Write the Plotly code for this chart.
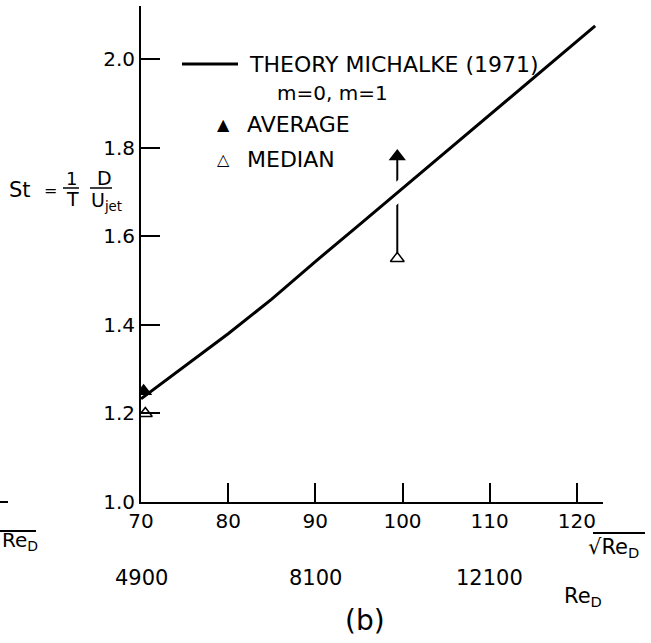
import plotly.graph_objects as go

# ---------------- data ----------------
theory_x = [70, 75, 80, 85, 90, 95, 100, 105, 110, 115, 120, 122.1]
theory_y = [1.233, 1.307, 1.380, 1.458, 1.543, 1.625, 1.708, 1.791, 1.874, 1.957, 2.040, 2.075]
avg_x = [70.3, 99.4]
avg_y = [1.25, 1.78]
med_x = [70.5, 99.4]
med_y = [1.20, 1.55]
x_ticks = [70, 80, 90, 100, 110, 120]
y_ticks = [1.0, 1.2, 1.4, 1.6, 1.8, 2.0]
re_tick_pos = [70, 90, 110]
re_tick_labels = ["4900", "8100", "12100"]

# ---------------- layout helpers ----------------
W, H = 651, 643
L, R, T, B = 141, 48, 6, 141
FONT = "DejaVu Sans"


def px(x):
    return (x - L) / (W - L - R)


def py(y):
    return (H - B - y) / (H - T - B)


fig = go.Figure()

# connector between median and average at the upper Reynolds number
fig.add_trace(go.Scatter(x=[avg_x[1], med_x[1]], y=[avg_y[1], med_y[1]], mode="lines",
                         line=dict(color="black", width=2), showlegend=False, hoverinfo="skip"))
# white halo so the connector is broken where the theory curve crosses it
fig.add_trace(go.Scatter(x=theory_x, y=theory_y, mode="lines",
                         line=dict(color="white", width=18), showlegend=False, hoverinfo="skip"))
fig.add_trace(go.Scatter(x=theory_x, y=theory_y, mode="lines", name="THEORY MICHALKE (1971)",
                         line=dict(color="black", width=3), showlegend=False))
fig.add_trace(go.Scatter(x=avg_x, y=avg_y, mode="markers", name="AVERAGE",
                         marker=dict(symbol="triangle-up", size=15, color="black"), showlegend=False))
fig.add_trace(go.Scatter(x=med_x, y=med_y, mode="markers", name="MEDIAN",
                         marker=dict(symbol="triangle-up", size=12, color="white",
                                     line=dict(color="black", width=1.5)), showlegend=False))

axis_common = dict(showline=True, linecolor="black", linewidth=2, ticks="inside", ticklen=19,
                   tickwidth=2, tickcolor="black", showgrid=False, zeroline=False,
                   tickfont=dict(family=FONT, size=20, color="black"))

fig.update_layout(
    width=W, height=H,
    margin=dict(l=L, r=R, t=T, b=B, pad=0),
    paper_bgcolor="white", plot_bgcolor="white",
    xaxis=dict(range=[70, 123], tickvals=x_ticks, ticktext=[str(v) for v in x_ticks], **axis_common),
    yaxis=dict(range=[1.0, 2.12], tickvals=y_ticks, ticktext=[f"{v:.1f}" for v in y_ticks], **axis_common),
    font=dict(family=FONT, size=20, color="black"),
)

ann = []
shapes = []


def text(x, y, s, size=20, xanchor="center"):
    ann.append(dict(x=px(x), y=py(y), xref="paper", yref="paper", text=s, showarrow=False,
                    xanchor=xanchor, yanchor="middle", font=dict(family=FONT, size=size, color="black")))


def hline(x0, x1, y, w=2):
    shapes.append(dict(type="line", xref="paper", yref="paper", x0=px(x0), x1=px(x1), y0=py(y), y1=py(y),
                       line=dict(color="black", width=w)))


# second row of x labels: Re_D
for pos, lab in zip(re_tick_pos, re_tick_labels):
    ann.append(dict(x=pos, y=py(578), xref="x", yref="paper", text=lab, showarrow=False,
                    xanchor="center", yanchor="middle", font=dict(family=FONT, size=21, color="black")))

# axis titles
text(613, 548, "√Re<sub>D</sub>", 21)
hline(593, 645, 533, 2)
text(583, 597, "Re<sub>D</sub>", 21)
text(365, 620, "(b)", 28)

# y label St = (1/T)(D/U_jet)
text(20, 190, "St", 21)
text(50, 190, "=", 16)
text(71, 178, "1", 18)
hline(63, 79, 188, 1.5)
text(72, 199, "T", 19)
text(104, 178, "D", 19)
hline(90, 112, 188, 1.5)
text(89, 201, "U<sub>jet</sub>", 19, xanchor="left")

# legend
hline(182, 238, 64, 3)
text(247, 64, "THEORY MICHALKE (1971)", 22, xanchor="left")
text(275, 93, "m=0, m=1", 20, xanchor="left")
text(223, 125, "▲", 16)
text(245, 125, "AVERAGE", 22, xanchor="left")
text(223, 160, "△", 16)
text(245, 160, "MEDIAN", 22, xanchor="left")

# fragments of the neighbouring panel at the left edge
text(0, 541, "Re<sub>D</sub>", 20, xanchor="left")
hline(0, 36, 531, 2)
hline(0, 8, 502, 2)

fig.update_layout(annotations=ann, shapes=shapes)
fig.write_html("out.html")
